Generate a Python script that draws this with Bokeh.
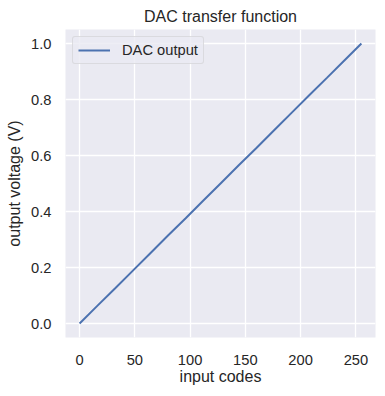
from bokeh.plotting import figure
from bokeh.models import Range1d, FixedTicker
from bokeh.embed import file_html
from bokeh.resources import INLINE

codes = [0, 16, 32, 48, 64, 80, 96, 112, 128, 144, 160, 176, 192, 208, 224, 240, 255]
voltages = [0.0, 0.063, 0.125, 0.188, 0.251, 0.314, 0.376, 0.439, 0.502,
            0.565, 0.627, 0.690, 0.753, 0.816, 0.878, 0.941, 1.0]
x_ticks = [0, 50, 100, 150, 200, 250]
y_ticks = [0.0, 0.2, 0.4, 0.6, 0.8, 1.0]

FONT = "Liberation Sans"
TXT = "#262626"

p = figure(frame_width=310, frame_height=308, output_backend="svg", toolbar_location=None,
           x_range=Range1d(-12.75, 267.75), y_range=Range1d(-0.05, 1.05),
           min_border_left=65, min_border_right=2, min_border_top=29, min_border_bottom=50)

p.title.text = "DAC transfer function"
p.title.align = "center"
p.title.text_font = FONT
p.title.text_font_size = "16px"
p.title.text_font_style = "normal"
p.title.text_color = TXT

p.background_fill_color = "#EAEAF2"
p.border_fill_color = "white"
p.outline_line_color = None

for ax in (p.xaxis, p.yaxis):
    ax.axis_line_color = None
    ax.major_tick_line_color = None
    ax.minor_tick_line_color = None
    ax.major_tick_out = 0
    ax.major_tick_in = 0
    ax.minor_tick_out = 0
    ax.minor_tick_in = 0
    ax.major_label_text_font = FONT
    ax.major_label_text_font_size = "14.7px"
    ax.major_label_text_color = TXT
    ax.axis_label_text_font = FONT
    ax.axis_label_text_font_size = "16px"
    ax.axis_label_text_font_style = "normal"
    ax.axis_label_text_color = TXT

p.xaxis.ticker = FixedTicker(ticks=x_ticks)
p.yaxis.ticker = FixedTicker(ticks=y_ticks)
p.yaxis.major_label_overrides = {v: f"{v:.1f}" for v in y_ticks}
p.xaxis.axis_label = "input codes"
p.yaxis.axis_label = "output voltage (V)"
p.xaxis.major_label_standoff = 17
p.yaxis.major_label_standoff = 14
p.xaxis.axis_label_standoff = 0
p.yaxis.axis_label_standoff = 5

p.xgrid.grid_line_color = "white"
p.ygrid.grid_line_color = "white"
p.xgrid.grid_line_width = 1.3
p.ygrid.grid_line_width = 1.3
p.xgrid.ticker = FixedTicker(ticks=x_ticks)
p.ygrid.ticker = FixedTicker(ticks=y_ticks)

p.line(codes, voltages, line_color="#4C72B0", line_width=2, legend_label="DAC output")

p.legend.location = "top_left"
p.legend.background_fill_color = "#EAEAF2"
p.legend.background_fill_alpha = 0.8
p.legend.border_line_color = "#CCCCCC"
p.legend.border_line_width = 1
p.legend.border_radius = 3
p.legend.label_text_font = FONT
p.legend.label_text_font_size = "14.7px"
p.legend.label_text_color = TXT
p.legend.margin = 7
p.legend.padding = 5
p.legend.spacing = 0
p.legend.label_height = 16
p.legend.glyph_height = 16
p.legend.label_width = 76
p.legend.glyph_width = 32
p.legend.label_standoff = 12

open("out.html", "w").write(file_html(p, INLINE))
